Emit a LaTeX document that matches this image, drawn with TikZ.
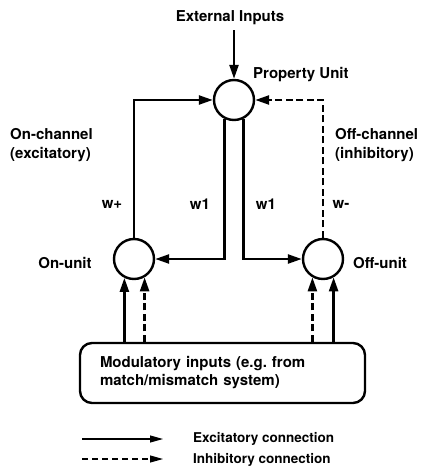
\documentclass[tikz,border=0pt]{standalone}
\usepackage{fontspec}
\setmainfont{TeX Gyre Heros}
\usetikzlibrary{arrows.meta,calc}
\begin{document}
\frenchspacing
\begin{tikzpicture}[x=1pt,y=-1pt,
  lbl/.style={font=\fontsize{15}{18}\selectfont\bfseries, inner sep=0pt},
  leglbl/.style={font=\fontsize{13.5}{16}\selectfont\bfseries, inner sep=0pt, anchor=west},
  unit/.style={draw, circle, line width=2.4pt, minimum size=40pt, inner sep=0pt},
  conn/.style={line width=2.4pt, -{Triangle[length=14pt,width=9pt]}},
  inh/.style={conn, dash pattern=on 7pt off 3.5pt},
  legexc/.style={line width=1.1pt, -{Triangle[length=13pt,width=7pt]}},
  leginh/.style={legexc, dash pattern=on 6pt off 4pt}]
\useasboundingbox (0,0) rectangle (425,468);
% units
\node[unit] (pu) at (234,100) {};
\node[unit] (on) at (134,259) {};
\node[unit] (off) at (323,259) {};
% labels
\node[lbl] (ext) at (230,18) {External Inputs};
\node[lbl, anchor=west] (pul) at (253,75) {Property Unit};
\node[lbl, anchor=west] (onc1) at (10,134) {On-channel};
\node[lbl, anchor=west] (onc2) at (10,155) {(excitatory)};
\node[lbl, anchor=west] (offc1) at (335,134) {Off-channel};
\node[lbl, anchor=west] (offc2) at (335,155) {(inhibitory)};
\node[lbl] (wp) at (112,204) {w+};
\node[lbl] (w1a) at (200,204) {w1};
\node[lbl] (w1b) at (266,204) {w1};
\node[lbl] (wm) at (341,204) {w-};
\node[lbl] (onl) at (65,263) {On-unit};
\node[lbl, anchor=west] (offl) at (353,263) {Off-unit};
% modulatory box
\node[draw, line width=2.4pt, rounded corners=12pt, lbl, inner xsep=20pt, inner ysep=0pt,
      text width=245pt, minimum height=60pt, align=left] (mod) at (222.5,373)
  {Modulatory inputs (e.g. from\\match/mismatch system)};
% connections
\draw[conn] ($(ext.south -| pu.north)+(0,5)$) -- (pu.north);
\draw[conn] (on.north) |- (pu.west);
\draw[inh] (off.north) |- (pu.east);
\draw[conn] (pu.243) |- (on.east);
\draw[conn] (pu.297) |- (off.west);
\draw[conn] (mod.north -| on.243) -- (on.243);
\draw[inh] (mod.north -| on.300) -- (on.300);
\draw[inh] (mod.north -| off.240) -- (off.240);
\draw[conn] (mod.north -| off.300) -- (off.300);
% legend
\coordinate (l1a) at (82,439);
\coordinate (l1b) at (163,439);
\coordinate (l2a) at (82,459);
\coordinate (l2b) at (163,459);
\draw[legexc] (l1a) -- (l1b);
\draw[leginh] (l2a) -- (l2b);
\node[leglbl] (e1) at (193,439) {Excitatory connection};
\node[leglbl] (e2) at (193,460) {Inhibitory connection};
\end{tikzpicture}
\end{document}
